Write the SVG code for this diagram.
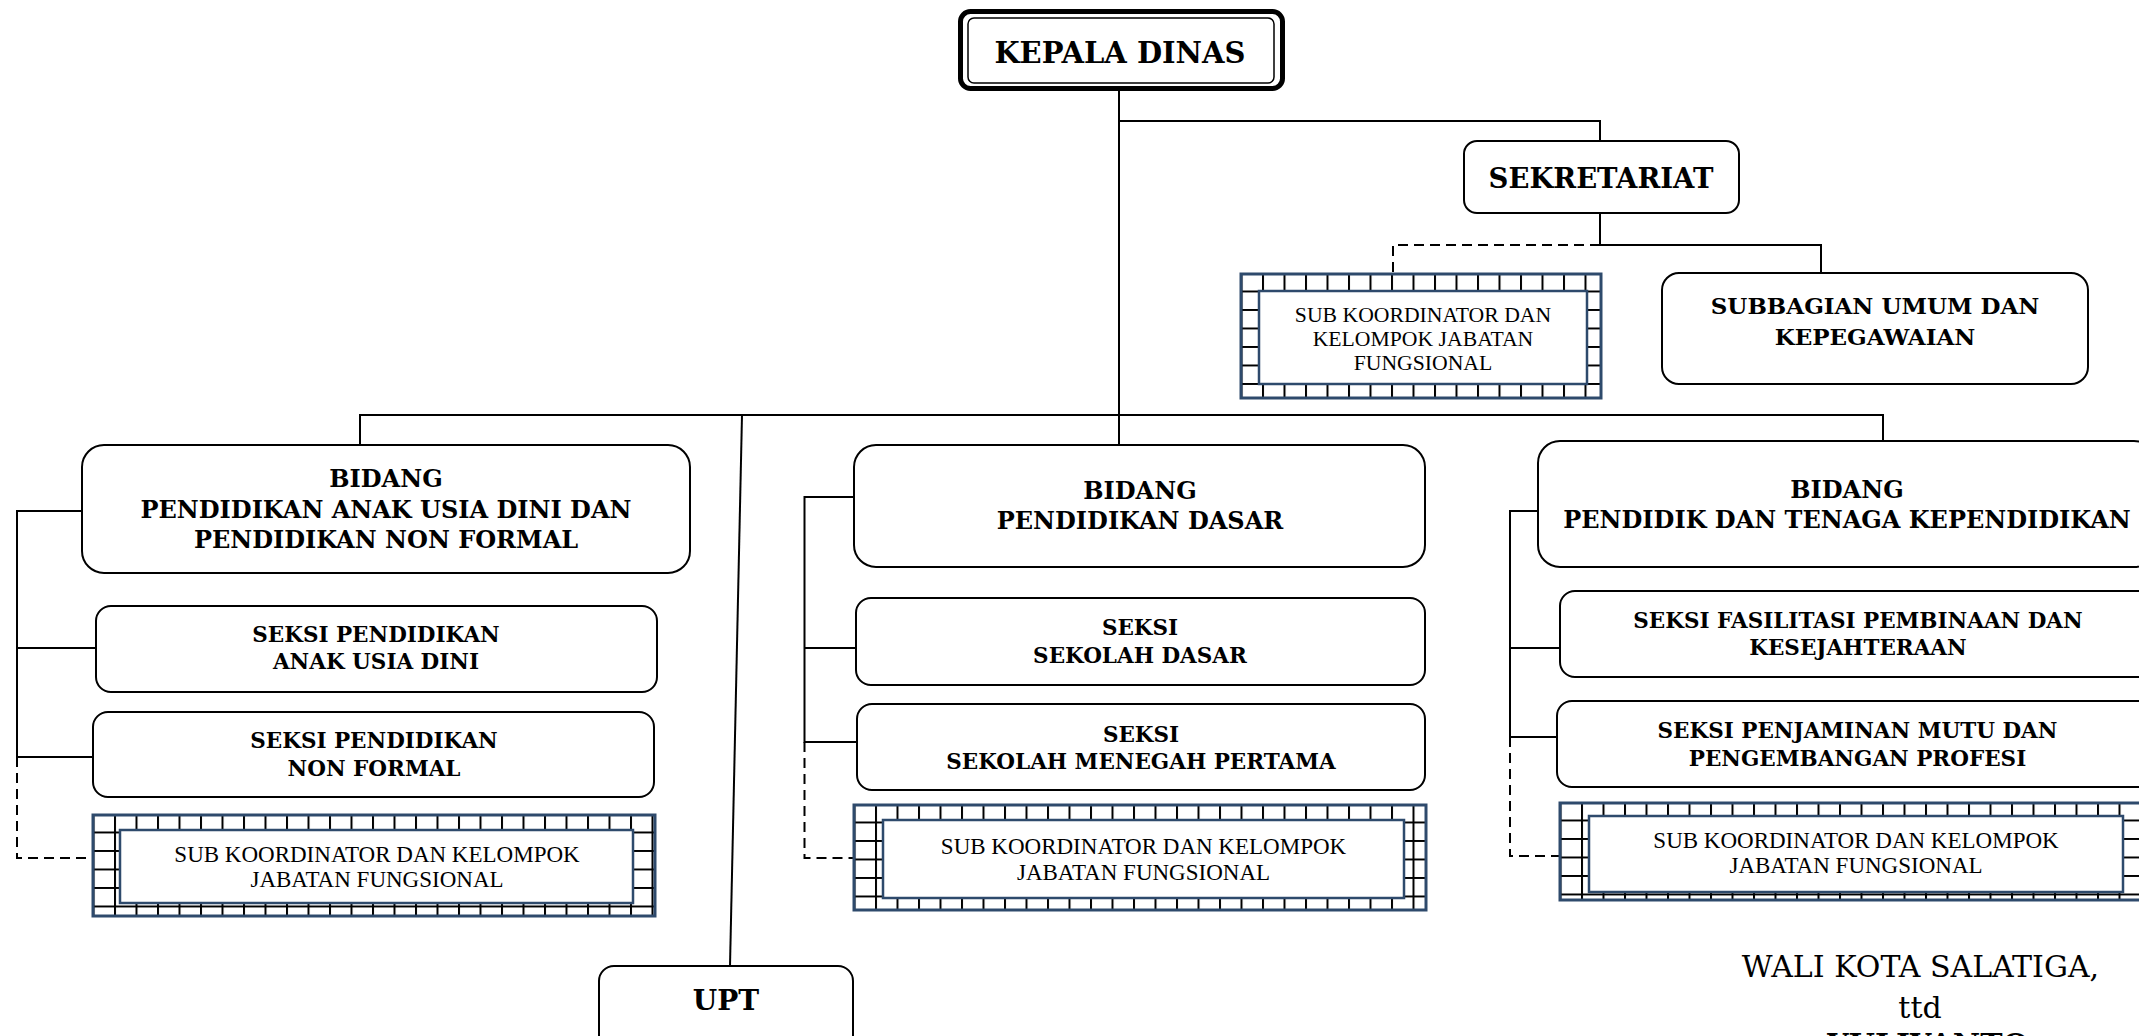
<svg xmlns="http://www.w3.org/2000/svg" width="2139" height="1036" viewBox="0 0 2139 1036">
<style>
.box{fill:#fff;stroke:#000;stroke-width:2}
.b{font-family:"DejaVu Serif",serif;font-weight:bold;text-anchor:middle;fill:#000}
.r{font-family:"Liberation Serif",serif;text-anchor:middle;fill:#000;font-size:23px}
.r.sm{font-size:21.7px}
.ln{fill:none;stroke:#000;stroke-width:2}
.dash{stroke-dasharray:10 6}
.so{stroke:#2e4a6c;stroke-width:3;fill:url(#grid)}
.si{stroke:#2e4a6c;stroke-width:2.5;fill:#fff}
.bid{font-size:24px}
.sek{font-size:21.5px}
</style>
<defs>
<pattern id="grid" patternUnits="userSpaceOnUse" x="-0.5" y="-2" width="21.5" height="18.5">
<rect width="21.5" height="18.5" fill="#fff"/>
<path d="M1,0V18.5M0,1H21.5" stroke="#000" stroke-width="2"/>
</pattern>
</defs>
<rect width="2139" height="1036" fill="#fff"/>

<g id="connectors">
<path class="ln" d="M1119,90V445"/>
<path class="ln" d="M1119,121H1600V141"/>
<path class="ln" d="M1600,213V245H1821V273"/>
<path class="ln dash" d="M1600,245H1393V274"/>
<path class="ln" d="M360,445V415H1883V441"/>
<path class="ln" d="M742,415L730,966"/>
<path class="ln" d="M82,511H17V757H93M17,648H96"/>
<path class="ln dash" d="M17,757V858H93"/>
<path class="ln" d="M854,497H804.5V742H857M804.5,648H856"/>
<path class="ln dash" d="M804.5,742V858H854"/>
<path class="ln" d="M1538,511H1510V737H1557M1510,648H1560"/>
<path class="ln dash" d="M1510,737V856H1560"/>
</g>

<g id="kepala-dinas">
<rect x="960.5" y="11.5" width="322" height="77" rx="10" fill="#fff" stroke="#000" stroke-width="5"/>
<rect x="968" y="18" width="306" height="65" rx="6" fill="none" stroke="#000" stroke-width="1.5"/>
<text class="b" x="1120" y="63" font-size="29">KEPALA DINAS</text>
</g>

<g id="sekretariat">
<rect class="box" x="1464" y="141" width="275" height="72" rx="13"/>
<text class="b" x="1601" y="188" font-size="27.5">SEKRETARIAT</text>
</g>

<g id="subbagian">
<rect class="box" x="1662" y="273" width="426" height="111" rx="17"/>
<text class="b" x="1875" y="314" font-size="23">SUBBAGIAN UMUM DAN</text>
<text class="b" x="1875" y="345" font-size="23">KEPEGAWAIAN</text>
</g>

<g id="subkoord-sekretariat" transform="translate(1241,274)">
<rect class="so" width="360" height="124"/>
<rect class="si" x="18" y="17" width="328" height="93"/>
<text class="r sm" x="182" y="48">SUB KOORDINATOR DAN</text>
<text class="r sm" x="182" y="72">KELOMPOK JABATAN</text>
<text class="r sm" x="182" y="96">FUNGSIONAL</text>
</g>

<g id="bidang-paud">
<rect class="box" x="82" y="445" width="608" height="128" rx="22"/>
<text class="b bid" x="386" y="487">BIDANG</text>
<text class="b bid" x="386" y="518">PENDIDIKAN ANAK USIA DINI DAN</text>
<text class="b bid" x="386" y="548">PENDIDIKAN NON FORMAL</text>
</g>

<g id="seksi-paud">
<rect class="box" x="96" y="606" width="561" height="86" rx="15"/>
<text class="b sek" x="376" y="642">SEKSI PENDIDIKAN</text>
<text class="b sek" x="376" y="669">ANAK USIA DINI</text>
</g>

<g id="seksi-nonformal">
<rect class="box" x="93" y="712" width="561" height="85" rx="15"/>
<text class="b sek" x="374" y="748">SEKSI PENDIDIKAN</text>
<text class="b sek" x="374" y="776">NON FORMAL</text>
</g>

<g id="subkoord-paud" transform="translate(93,815)">
<rect class="so" width="562" height="101"/>
<rect class="si" x="27" y="15" width="513" height="73"/>
<text class="r" x="284" y="47">SUB KOORDINATOR DAN KELOMPOK</text>
<text class="r" x="284" y="72">JABATAN FUNGSIONAL</text>
</g>

<g id="bidang-dasar">
<rect class="box" x="854" y="445" width="571" height="122" rx="22"/>
<text class="b bid" x="1140" y="499">BIDANG</text>
<text class="b bid" x="1140" y="529">PENDIDIKAN DASAR</text>
</g>

<g id="seksi-sd">
<rect class="box" x="856" y="598" width="569" height="87" rx="15"/>
<text class="b sek" x="1140" y="635">SEKSI</text>
<text class="b sek" x="1140" y="663">SEKOLAH DASAR</text>
</g>

<g id="seksi-smp">
<rect class="box" x="857" y="704" width="568" height="86" rx="15"/>
<text class="b sek" x="1141" y="742">SEKSI</text>
<text class="b sek" x="1141" y="769">SEKOLAH MENEGAH PERTAMA</text>
</g>

<g id="subkoord-dasar" transform="translate(854,805)">
<rect class="so" width="572" height="105"/>
<rect class="si" x="29" y="15" width="521" height="78"/>
<text class="r" x="289.5" y="49">SUB KOORDINATOR DAN KELOMPOK</text>
<text class="r" x="289.5" y="75">JABATAN FUNGSIONAL</text>
</g>

<g id="bidang-ptk">
<rect class="box" x="1538" y="441" width="618" height="126" rx="22"/>
<text class="b bid" x="1847" y="498">BIDANG</text>
<text class="b bid" x="1847" y="528">PENDIDIK DAN TENAGA KEPENDIDIKAN</text>
</g>

<g id="seksi-fasilitasi">
<rect class="box" x="1560" y="591" width="596" height="86" rx="15"/>
<text class="b sek" x="1858" y="628">SEKSI FASILITASI PEMBINAAN DAN</text>
<text class="b sek" x="1858" y="655">KESEJAHTERAAN</text>
</g>

<g id="seksi-penjaminan">
<rect class="box" x="1557" y="701" width="601" height="86" rx="15"/>
<text class="b sek" x="1857.5" y="738">SEKSI PENJAMINAN MUTU DAN</text>
<text class="b sek" x="1857.5" y="766">PENGEMBANGAN PROFESI</text>
</g>

<g id="subkoord-ptk" transform="translate(1560,803)">
<rect class="so" width="592" height="97"/>
<rect class="si" x="29" y="13" width="534" height="76"/>
<text class="r" x="296" y="45">SUB KOORDINATOR DAN KELOMPOK</text>
<text class="r" x="296" y="70">JABATAN FUNGSIONAL</text>
</g>

<g id="upt">
<rect class="box" x="599" y="966" width="254" height="90" rx="15"/>
<text class="b" x="726" y="1010" font-size="28">UPT</text>
</g>

<g id="signature">
<text x="1920.5" y="977" font-family="DejaVu Serif, serif" font-size="30" text-anchor="middle">WALI KOTA SALATIGA,</text>
<text x="1920" y="1018" font-family="DejaVu Serif, serif" font-size="30" text-anchor="middle">ttd</text>
<text x="1928" y="1055" font-family="DejaVu Serif, serif" font-size="30" font-weight="bold" text-anchor="middle">YULIYANTO</text>
</g>
</svg>
